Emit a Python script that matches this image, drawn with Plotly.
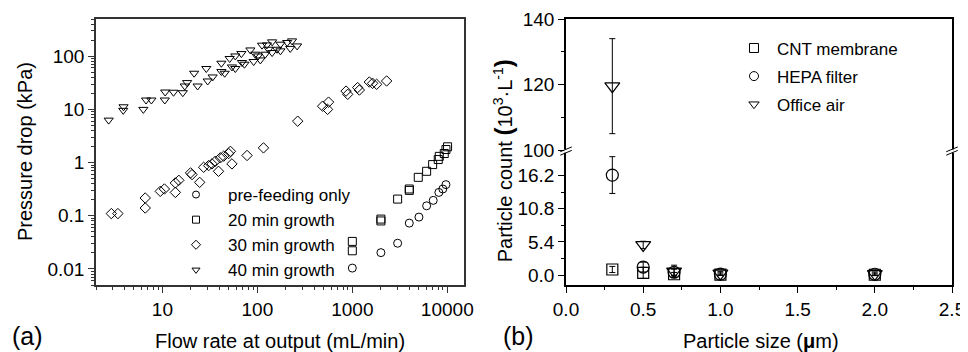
import plotly.graph_objects as go

# ---------------- Panel (a) data ----------------
pre_x = [1000, 2000, 3000, 3980, 5030, 6060, 7110, 8150, 8970, 9680]
pre_y = [0.0104, 0.0203, 0.0305, 0.0728, 0.0945, 0.154, 0.195, 0.275, 0.319, 0.385]

g20_x = [1000, 1000, 2000, 2000, 3000, 3980, 3980, 4950, 6060, 7010, 8030, 8240, 9290, 9680, 10070]
g20_y = [0.033, 0.022, 0.0867, 0.08, 0.206, 0.319, 0.30, 0.528, 0.686, 0.917, 1.14, 1.31, 1.48, 1.76, 1.98]

g30_x = [2.9, 3.4, 6.6, 6.6, 9.5, 10.5, 13.7, 13.7, 14.9, 19.8, 20.5, 24.7, 27.2, 30.7, 33.3, 36.1,
         39.0, 40.8, 44.2, 49.9, 52.0, 54.0, 77.9, 116, 266, 487, 549, 562, 859, 894, 1138, 1186,
         1511, 1636, 1803, 2297]
g30_y = [0.11, 0.11, 0.216, 0.14, 0.288, 0.319, 0.275, 0.414, 0.464, 0.64, 0.594, 0.425, 0.816, 0.878,
         0.945, 1.06, 0.686, 1.23, 1.32, 1.48, 1.63, 0.945, 1.36, 1.89, 6.0, 11.5, 10.0, 13.7, 22.1,
         19.2, 25.7, 23.1, 32.7, 30.9, 29.6, 34.2]

g40_x = [2.72, 3.9, 3.87, 6.3, 6.73, 7.66, 10.6, 10.7, 13.1, 16.4, 17.2, 18.2, 21.6, 23.5, 29, 30,
         33.8, 41.8, 41.8, 45.3, 51.1, 54, 58.6, 58.6, 67.9, 68.9, 73.1, 84.4, 91.4, 95, 101.6, 107.6,
         112, 121, 126, 131, 143, 143, 161, 175, 175, 206, 222, 232, 262]
g40_y = [6.28, 11.2, 9.6, 10, 15, 15, 15, 21.2, 21, 20.6, 27.5, 31.9, 47.8, 27.5, 58.6, 34.2,
         40.7, 73.8, 51.4, 47.8, 90.5, 62.8, 58.6, 101, 112, 76, 70.6, 131, 79.4, 109, 101, 85,
         161, 109, 163, 135, 186, 117, 135, 126, 168, 181, 140, 194, 156]

flow_ticks = [10, 100, 1000, 10000]
flow_ticktext = ["10", "100", "1000", "10000"]
dp_ticks = [0.01, 0.1, 1, 10, 100]
dp_ticktext = ["0.01", "0.1", "1", "10", "100"]

# ---------------- Panel (b) data ----------------
sizes = [0.3, 0.5, 0.7, 1.0, 2.0]
cnt = [0.9, 0.35, 0.12, 0.05, 0.04]
cnt_err = [0.5, 0.9, 0.3, 0.1, 0.1]
hepa = [16.3, 1.3, 0.45, 0.15, 0.12]
hepa_err = [3.0, 0.8, 0.5, 0.2, 0.2]
office = [119.5, 4.9, 0.6, 0.25, 0.2]
office_err = [14.5, 0.6, 1.0, 0.3, 0.3]

count_ticks_low = [0, 5.4, 10.8, 16.2]
count_ticktext_low = ["0.0", "5.4", "10.8", "16.2"]
count_ticks_high = [100, 120, 140]
count_ticktext_high = ["100", "120", "140"]

left_labels = ["pre-feeding only", "20 min growth", "30 min growth", "40 min growth"]
right_labels = ["CNT membrane", "HEPA filter", "Office air"]

FONT = "Liberation Sans, Arial, sans-serif"
BLACK = "#000000"
W, H = 960, 344

fig = go.Figure()

# Panel (a) scatter
left_series = [(pre_x, pre_y, "circle-open"), (g20_x, g20_y, "square-open"),
               (g30_x, g30_y, "diamond-open"), (g40_x, g40_y, "triangle-down-open")]
for (xs, ys, sym), lab in zip(left_series, left_labels):
    fig.add_trace(go.Scatter(x=xs, y=ys, mode="markers", xaxis="x", yaxis="y",
                             marker=dict(symbol=sym, size=8, color=BLACK, line=dict(width=1, color=BLACK)),
                             showlegend=False, name=lab))
    fig.add_trace(go.Scatter(x=[None], y=[None], mode="markers", xaxis="x", yaxis="y",
                             marker=dict(symbol=sym, size=7, color=BLACK, line=dict(width=1, color=BLACK)),
                             showlegend=True, legend="legend", name=lab))

# Panel (b) scatter with broken axis (lower & upper parts)
right_series = [(cnt, cnt_err, "square-open", 11), (hepa, hepa_err, "circle-open", 12),
                (office, office_err, "triangle-down-open", 13)]
for (vals, errs, sym, sz), lab in zip(right_series, right_labels):
    for xa, ya in (("x2", "y2"), ("x3", "y3")):
        fig.add_trace(go.Scatter(x=sizes, y=vals, mode="markers", xaxis=xa, yaxis=ya,
                                 marker=dict(symbol=sym, size=sz, color=BLACK, line=dict(width=1.2, color=BLACK)),
                                 error_y=dict(type="data", array=errs, visible=True, color=BLACK,
                                              thickness=1, width=3),
                                 showlegend=False, name=lab))
    fig.add_trace(go.Scatter(x=[None], y=[None], mode="markers", xaxis="x2", yaxis="y2",
                             marker=dict(symbol=sym, size=9, color=BLACK, line=dict(width=1, color=BLACK)),
                             showlegend=True, legend="legend2", legendgroup=lab, name=lab))

tickfont = dict(family=FONT, size=19, color=BLACK)
axcol = "#333333"

minor_flow = [m * 10 ** e for e in range(0, 5) for m in range(2, 10)]
minor_dp = [m * 10 ** e for e in range(-3, 3) for m in range(2, 10)]

fig.update_layout(
    width=W, height=H,
    margin=dict(l=0, r=0, t=11, b=67),
    paper_bgcolor="white", plot_bgcolor="white",
    font=dict(family=FONT, color=BLACK),
    xaxis=dict(type="log", domain=[88 / W, 456 / W], range=[0.301, 4.176], anchor="y",
               showline=True, linecolor=axcol, linewidth=1.5, mirror=True,
               ticks="outside", ticklen=6, tickwidth=1, tickcolor=axcol,
               tickmode="array", tickvals=flow_ticks, ticktext=flow_ticktext,
               tickfont=tickfont, showgrid=False, zeroline=False,
               minor=dict(ticks="outside", ticklen=3, tickwidth=1, tickcolor=axcol,
                          tickmode="array", tickvals=minor_flow, showgrid=False),
               automargin=False),
    yaxis=dict(type="log", domain=[0, 1], range=[-2.301, 2.699], anchor="x",
               showline=True, linecolor=axcol, linewidth=1.5, mirror=True,
               ticks="outside", ticklen=6, tickwidth=1, tickcolor=axcol,
               tickmode="array", tickvals=dp_ticks, ticktext=dp_ticktext,
               tickfont=tickfont, showgrid=False, zeroline=False,
               minor=dict(ticks="outside", ticklen=3, tickwidth=1, tickcolor=axcol,
                          tickmode="array", tickvals=minor_dp, showgrid=False),
               automargin=False),
    xaxis2=dict(domain=[558 / W, 944 / W], range=[0, 2.5], anchor="y2",
                showline=True, linecolor=BLACK, linewidth=1.5, mirror=False,
                ticks="outside", ticklen=6, tickwidth=1, tickcolor=BLACK, dtick=0.5, tickformat=".1f",
                tickfont=tickfont, showgrid=False, zeroline=False,
                minor=dict(ticks="outside", ticklen=3, tickwidth=1, tickcolor=BLACK, dtick=0.25, showgrid=False),
                automargin=False),
    xaxis3=dict(domain=[558 / W, 944 / W], range=[0, 2.5], anchor="y3", side="top", matches="x2",
                showline=True, linecolor=BLACK, linewidth=1.5, ticks="", showticklabels=False,
                showgrid=False, zeroline=False, automargin=False),
    yaxis2=dict(domain=[0, 0.5], range=[-1.63, 20.06], anchor="x2",
                showline=True, linecolor=BLACK, linewidth=1.5, mirror=True,
                ticks="outside", ticklen=6, tickwidth=1, tickcolor=BLACK,
                tickmode="array", tickvals=count_ticks_low, ticktext=count_ticktext_low,
                tickfont=tickfont, showgrid=False, zeroline=False,
                minor=dict(ticks="outside", ticklen=3, tickwidth=1, tickcolor=BLACK,
                           tickmode="array", tickvals=[2.7, 8.1, 13.5], showgrid=False),
                automargin=False),
    yaxis3=dict(domain=[0.5, 1], range=[99.4, 140], anchor="x3",
                showline=True, linecolor=BLACK, linewidth=1.5, mirror=True,
                ticks="outside", ticklen=6, tickwidth=1, tickcolor=BLACK,
                tickmode="array", tickvals=count_ticks_high, ticktext=count_ticktext_high,
                tickfont=tickfont, showgrid=False, zeroline=False,
                minor=dict(ticks="outside", ticklen=3, tickwidth=1, tickcolor=BLACK,
                           tickmode="array", tickvals=[110, 130], showgrid=False),
                automargin=False),
    legend=dict(x=156 / W, y=0.406, xanchor="left", yanchor="top", bgcolor="rgba(0,0,0,0)",
                font=dict(family=FONT, size=17, color=BLACK), itemwidth=54, tracegroupgap=0,
                borderwidth=0),
    legend2=dict(x=723 / W, y=0.957, xanchor="left", yanchor="top", bgcolor="rgba(0,0,0,0)",
                 font=dict(family=FONT, size=17, color=BLACK), itemwidth=36, tracegroupgap=3,
                 borderwidth=0),
    showlegend=True,
)

# axis titles and panel labels
ann = [
    dict(text="Flow rate at output (mL/min)", x=272 / W, y=-0.212, xref="paper", yref="paper",
         showarrow=False, font=dict(family=FONT, size=20, color=BLACK), xanchor="center", yanchor="middle"),
    dict(text="Particle size (<b>μ</b>m)", x=753 / W, y=-0.212, xref="paper", yref="paper",
         showarrow=False, font=dict(family=FONT, size=20, color=BLACK), xanchor="center", yanchor="middle"),
    dict(text="Pressure drop (kPa)", x=17 / W, y=0.5, xref="paper", yref="paper", textangle=-90,
         showarrow=False, font=dict(family=FONT, size=20, color=BLACK), xanchor="center", yanchor="middle"),
    dict(text="Particle count <b><span style='font-size:24px'>(</span></b>10<sup>3</sup>·L<sup>-1</sup><b><span style='font-size:24px'>)</span></b>",
         x=495 / W, y=0.465, xref="paper", yref="paper", textangle=-90,
         showarrow=False, font=dict(family=FONT, size=20, color=BLACK), xanchor="center", yanchor="middle"),
    dict(text="(a)", x=19 / W, y=-0.19, xref="paper", yref="paper",
         showarrow=False, font=dict(family=FONT, size=25, color=BLACK), xanchor="center", yanchor="middle"),
    dict(text="(b)", x=510 / W, y=-0.19, xref="paper", yref="paper",
         showarrow=False, font=dict(family=FONT, size=25, color=BLACK), xanchor="center", yanchor="middle"),
]
fig.update_layout(annotations=ann)

# axis-break marks on the right panel (decoration)
shapes = []
for xb in (558 / W, 944 / W):
    shapes.append(dict(type="rect", xref="paper", yref="paper", x0=xb - 0.002, x1=xb + 0.002,
                       y0=0.497, y1=0.51, fillcolor="white", line=dict(width=0)))
    for dy in (0.0, 0.013):
        shapes.append(dict(type="line", xref="paper", yref="paper", x0=xb - 0.006, x1=xb + 0.006,
                           y0=0.488 + dy, y1=0.506 + dy, line=dict(color=BLACK, width=1)))
fig.update_layout(shapes=shapes)

fig.write_html("out.html")
